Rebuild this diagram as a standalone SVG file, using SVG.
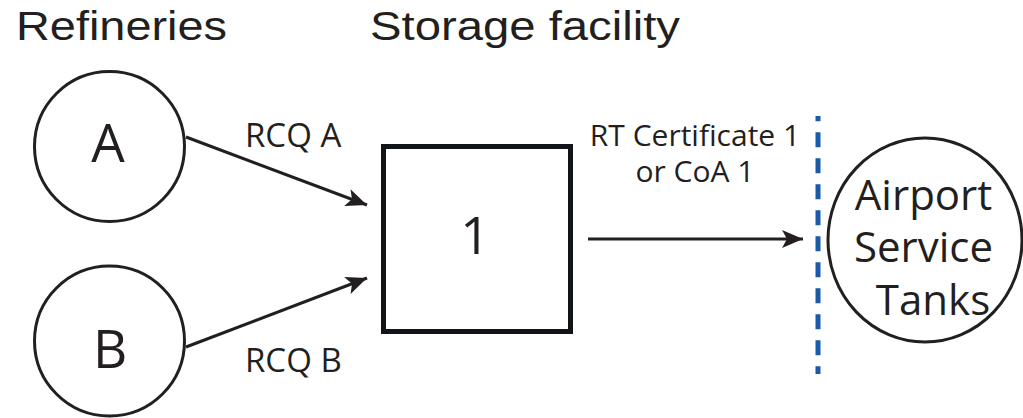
<svg xmlns="http://www.w3.org/2000/svg" width="1023" height="418" viewBox="0 0 1023 418">
<style>
.title{font-family:"Liberation Sans",Arial,sans-serif;font-size:40px;fill:#231f20}
.lbl{font-family:"Open Sans","Noto Sans",sans-serif;fill:#231f20}
.node{fill:#fff;stroke:#231f20;stroke-width:3}
.conn{fill:none;stroke:#231f20;stroke-width:3}
</style>
<defs>
<marker id="ah" markerUnits="userSpaceOnUse" viewBox="-22 -10 24 20" refX="0" refY="0" markerWidth="24" markerHeight="20" orient="auto">
<path d="M0,0 L-21,-9 L-16,0 L-21,9 Z" fill="#231f20"/>
</marker>
</defs>
<rect width="1023" height="418" fill="#fff"/>
<text class="title" x="16" y="40" textLength="211" lengthAdjust="spacingAndGlyphs">Refineries</text>
<text class="title" x="370" y="40" textLength="310" lengthAdjust="spacingAndGlyphs">Storage facility</text>
<g id="nodeA">
<circle class="node" cx="109.5" cy="146.5" r="75"/>
<text class="lbl" x="108" y="162" font-size="53" text-anchor="middle">A</text>
</g>
<g id="nodeB">
<circle class="node" cx="109.5" cy="341" r="75"/>
<text class="lbl" x="110" y="368" font-size="53" text-anchor="middle">B</text>
</g>
<g id="storage1">
<rect x="383.5" y="146.5" width="187" height="185" fill="#fff" stroke="#111418" stroke-width="5"/>
<text class="lbl" x="475" y="254" font-size="52" text-anchor="middle">1</text>
</g>
<g id="airport">
<ellipse class="node" cx="925" cy="240" rx="97" ry="102"/>
<text class="lbl" font-size="42" text-anchor="middle">
<tspan x="929" y="210">Airport</tspan>
<tspan x="929" y="262">Service</tspan>
<tspan x="933" y="315">Tanks</tspan>
</text>
</g>
<g id="boundary">
<line x1="818" y1="116" x2="818" y2="374" stroke="#1a5aa8" stroke-width="5" stroke-dasharray="15 11" stroke-dashoffset="9.7"/>
</g>
<g id="connectors">
<line class="conn" x1="186" y1="137" x2="367" y2="205" marker-end="url(#ah)"/>
<line class="conn" x1="186" y1="347" x2="367" y2="278" marker-end="url(#ah)"/>
<line class="conn" x1="588" y1="239" x2="803" y2="239" stroke-width="4" marker-end="url(#ah)"/>
<text class="lbl" x="245" y="147" font-size="33">RCQ A</text>
<text class="lbl" x="245" y="372" font-size="33">RCQ B</text>
<text class="lbl" x="695" y="146" font-size="30" text-anchor="middle">RT Certificate 1</text>
<text class="lbl" x="695" y="182" font-size="30" text-anchor="middle">or CoA 1</text>
</g>
</svg>
